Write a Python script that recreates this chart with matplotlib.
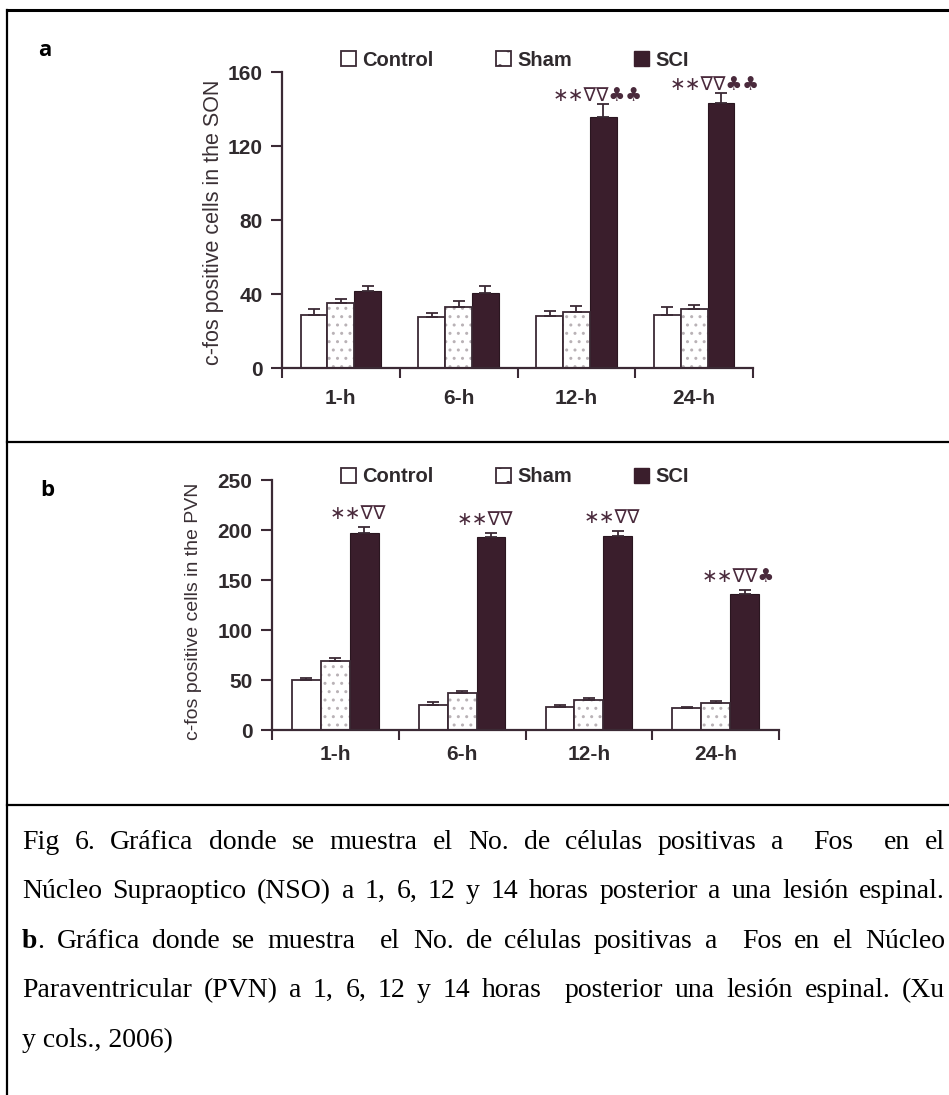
import matplotlib
matplotlib.use("Agg")
import matplotlib.pyplot as plt
import numpy as np
from matplotlib.lines import Line2D
from matplotlib.patches import Patch

W, H = 949, 1095

# ---- data ----
groups = ['1-h', '6-h', '12-h', '24-h']
series = ['Control', 'Sham', 'SCI']

# (a) SON
son_control = [28.5, 27.6, 28.2, 28.5]
son_control_err = [3.4, 2.0, 2.7, 4.3]
son_sham = [34.9, 33.2, 30.1, 31.9]
son_sham_err = [2.4, 3.2, 3.6, 2.3]
son_sci = [41.8, 40.7, 135.9, 143.5]
son_sci_err = [2.5, 3.4, 6.6, 4.9]
son_marks = ['', '', '∗∗∇∇♣♣', '∗∗∇∇♣♣']

# (b) PVN
pvn_control = [50.0, 25.0, 23.3, 21.7]
pvn_control_err = [1.7, 3.3, 1.7, 1.6]
pvn_sham = [69.0, 36.7, 30.0, 26.7]
pvn_sham_err = [2.7, 2.3, 1.7, 2.3]
pvn_sci = [197.3, 192.7, 194.3, 136.0]
pvn_sci_err = [6.0, 4.0, 5.0, 4.0]
pvn_marks = ['∗∗∇∇', '∗∗∇∇', '∗∗∇∇', '∗∗∇∇♣']

caption_lines = [
    'Fig 6. Gráfica donde se muestra el No. de células positivas a  Fos  en el',
    'Núcleo Supraoptico (NSO) a 1, 6, 12 y 14 horas posterior a una lesión espinal.',
    '**b**. Gráfica donde se muestra  el No. de células positivas a  Fos en el Núcleo',
    'Paraventricular (PVN) a 1, 6, 12 y 14 horas  posterior una lesión espinal. (Xu',
    'y cols., 2006)',
]

DARK = '#3b2a35'
SCI_COLOR = '#3a1e2c'
TXT = '#2f2a2d'

fig = plt.figure(figsize=(W / 100, H / 100), dpi=100)


def px_axes(left, top, right, bottom):
    return fig.add_axes([left / W, 1 - bottom / H, (right - left) / W, (bottom - top) / H])


def bar_panel(ax, control, c_err, sham, s_err, sci, x_err, marks, ymax, step,
              legend_xy, ylabel, ylabel_xy, ylabel_size, label_pad, mark_lift):
    x = np.arange(len(groups))
    w = 0.228
    ax.bar(x - w, control, w, color='white', edgecolor=DARK, linewidth=1.3, zorder=2)
    ax.bar(x, sham, w, color='white', edgecolor='#b9b2b6', hatch='..', linewidth=0, zorder=2)
    ax.bar(x, sham, w, fill=False, edgecolor=DARK, linewidth=1.3, zorder=3)
    ax.bar(x + w, sci, w, color=SCI_COLOR, edgecolor='#2a1620', linewidth=0.8, zorder=2)
    for off, vals, err in [(-w, control, c_err), (0, sham, s_err), (w, sci, x_err)]:
        ax.errorbar(x + off, vals, yerr=[np.zeros(len(vals)), err], fmt='none',
                    ecolor=DARK, elinewidth=1.3, capsize=4.5, capthick=1.3, zorder=4)
    # significance symbols above the SCI bars
    for i, m in enumerate(marks):
        if m:
            ax.annotate(m, xy=(x[i] + w, sci[i] + x_err[i]), xytext=(-6, mark_lift),
                        textcoords='offset pixels', ha='center', va='baseline',
                        fontsize=13.5, color='#4a2a3c', annotation_clip=False)

    ax.set_xlim(-0.5, len(groups) - 0.5)
    ax.set_ylim(0, ymax)
    ax.set_yticks(np.arange(0, ymax + 1, step))
    ax.set_xticks(np.arange(len(groups) + 1) - 0.5)
    ax.set_xticklabels([])
    ax.set_xticks(x, minor=True)
    ax.set_xticklabels(groups, minor=True)
    ax.tick_params(axis='x', which='major', direction='out', length=7, width=1.5, color=DARK)
    ax.tick_params(axis='x', which='minor', length=0, pad=label_pad)
    ax.tick_params(axis='y', direction='out', length=8, width=1.5, color=DARK, pad=6)
    for lab in ax.get_xticklabels(minor=True) + ax.get_yticklabels():
        lab.set_fontweight('bold')
        lab.set_fontsize(15)
        lab.set_color(TXT)
        lab.set_family('Liberation Sans')
    for side in ['top', 'right']:
        ax.spines[side].set_visible(False)
    for side in ['left', 'bottom']:
        ax.spines[side].set_color(DARK)
        ax.spines[side].set_linewidth(1.6)

    handles = [Patch(facecolor='white', edgecolor=DARK, linewidth=1.3),
               Patch(facecolor='white', edgecolor=DARK, linewidth=1.3, hatch='.'),
               Patch(facecolor=SCI_COLOR, edgecolor=SCI_COLOR)]
    ax.legend(handles, series, ncol=3, loc='center', bbox_to_anchor=legend_xy,
              bbox_transform=fig.transFigure, frameon=False, columnspacing=3.1,
              handlelength=0.75, handleheight=0.75, handletextpad=0.3,
              prop={'family': 'Liberation Sans', 'weight': 'bold', 'size': 14.5},
              labelcolor=TXT, borderaxespad=0)

    fig.text(ylabel_xy[0] / W, 1 - ylabel_xy[1] / H, ylabel, rotation=90,
             ha='center', va='center', fontsize=ylabel_size, color='#3a3035',
             family='Liberation Sans')


ax_a = px_axes(282, 72, 753, 368)
bar_panel(ax_a, son_control, son_control_err, son_sham, son_sham_err, son_sci, son_sci_err,
          son_marks, 160, 40, (515 / W, 1 - 60 / H), 'c-fos positive cells in the SON',
          (214, 222), 15.5, 15, 3)

ax_b = px_axes(272, 480, 779, 730)
bar_panel(ax_b, pvn_control, pvn_control_err, pvn_sham, pvn_sham_err, pvn_sci, pvn_sci_err,
          pvn_marks, 250, 50, (515 / W, 1 - 477 / H), 'c-fos positive cells in the PVN',
          (193, 611), 14, 11, 8)

# panel letters
fig.text(45 / W, 1 - 50 / H, 'a', fontsize=16, fontweight='bold', ha='center', va='center',
         family='Open Sans')
fig.text(47 / W, 1 - 490 / H, 'b', fontsize=16, fontweight='bold', ha='center', va='center',
         family='Open Sans')

# table borders
border = dict(color='black', linewidth=1.6, transform=fig.transFigure)
fig.add_artist(Line2D([7 / W, 7 / W], [0, 1 - 10 / H], **border))
fig.add_artist(Line2D([7 / W, 1], [1 - 10 / H, 1 - 10 / H], color='black', linewidth=2.2,
                      transform=fig.transFigure))
fig.add_artist(Line2D([7 / W, 1], [1 - 442 / H, 1 - 442 / H], **border))
fig.add_artist(Line2D([7 / W, 1], [1 - 805 / H, 1 - 805 / H], **border))

# caption, justified between the cell margins
renderer = fig.canvas.get_renderer()
cap_font = dict(family='Liberation Serif', fontsize=20, color='black')
x_left, x_right = 22, 945
line_y = [849, 898, 948, 997, 1047]   # baselines


def split_words(line):
    # '**x**' marks a bold piece; words are split on single spaces so that
    # doubled spaces give a wider gap
    words = []
    for word in line.split(' '):
        if word.startswith('**'):
            bold, rest = word[2:].split('**', 1)
            words.append([(bold, 'bold'), (rest, 'normal')])
        else:
            words.append([(word, 'normal')])
    return words


def draw_justified(words, y):
    pieces, widths = [], []
    for word in words:
        ws = []
        for txt, weight in word:
            t = fig.text(0, 1 - y / H, txt, fontweight=weight, va='baseline', ha='left',
                         **cap_font)
            ws.append((t, t.get_window_extent(renderer).width if txt else 0.0))
        pieces.append(ws)
        widths.append(sum(wd for _, wd in ws))
    gap = max((x_right - x_left - sum(widths)) / (len(words) - 1), 4)
    xpos = x_left
    for ws in pieces:
        for t, wd in ws:
            t.set_x(xpos / W)
            xpos += wd
        xpos += gap


for i, line in enumerate(caption_lines):
    if i == len(caption_lines) - 1:
        fig.text(x_left / W, 1 - line_y[i] / H, line, va='baseline', ha='left', **cap_font)
    else:
        draw_justified(split_words(line), line_y[i])

fig.savefig('out.png', dpi=100)
